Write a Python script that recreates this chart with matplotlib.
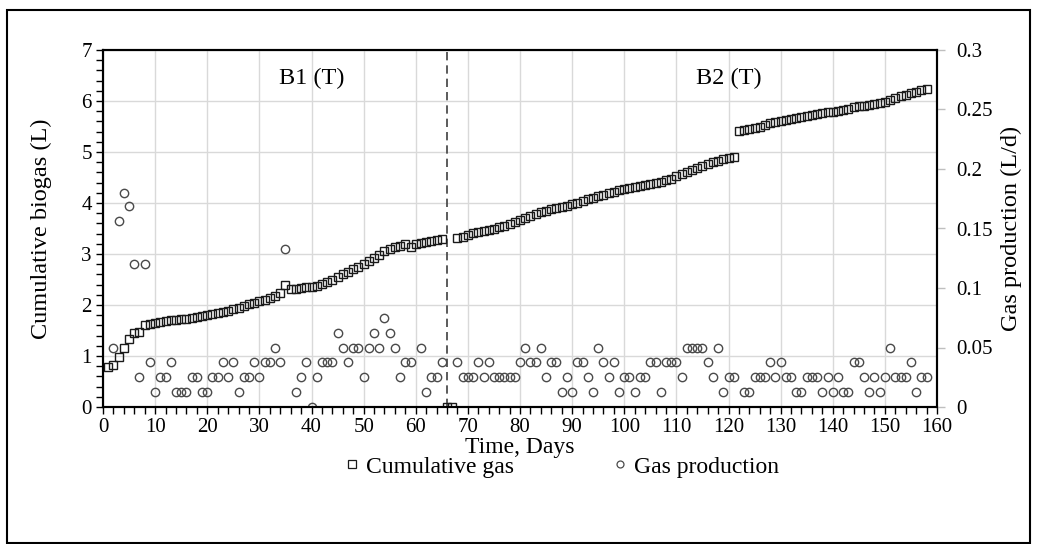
import numpy as np
import matplotlib
matplotlib.use("Agg")
import matplotlib.pyplot as plt
from matplotlib.ticker import MultipleLocator, FuncFormatter
from matplotlib.patches import Rectangle
from matplotlib.lines import Line2D

plt.rcParams['font.family'] = ['Liberation Serif', 'DejaVu Serif']
plt.rcParams['font.size'] = 15

# cumulative biogas (L), one reading per day, days 1..158 (reset at days 66-67)
cum_day = list(range(1, 159))
cum_gas = [
	0.79, 0.82, 0.99, 1.15, 1.33, 1.46, 1.48, 1.61, 1.62, 1.64,
	1.66, 1.68, 1.70, 1.71, 1.72, 1.73, 1.75, 1.76, 1.78, 1.80,
	1.82, 1.84, 1.86, 1.89, 1.92, 1.95, 1.98, 2.01, 2.04, 2.07,
	2.10, 2.14, 2.18, 2.23, 2.39, 2.31, 2.32, 2.33, 2.35, 2.36,
	2.38, 2.42, 2.45, 2.49, 2.55, 2.60, 2.65, 2.70, 2.75, 2.80,
	2.86, 2.92, 2.99, 3.06, 3.10, 3.13, 3.16, 3.20, 3.14, 3.20,
	3.22, 3.24, 3.26, 3.28, 3.30, 0.00, 0.00, 3.31, 3.34, 3.38,
	3.42, 3.44, 3.46, 3.48, 3.50, 3.52, 3.55, 3.58, 3.62, 3.66,
	3.70, 3.74, 3.78, 3.82, 3.85, 3.88, 3.90, 3.93, 3.95, 3.98,
	4.00, 4.03, 4.07, 4.10, 4.13, 4.16, 4.19, 4.22, 4.25, 4.27,
	4.29, 4.31, 4.33, 4.35, 4.37, 4.40, 4.42, 4.45, 4.48, 4.52,
	4.56, 4.60, 4.64, 4.68, 4.72, 4.76, 4.80, 4.83, 4.86, 4.88,
	4.90, 5.42, 5.43, 5.45, 5.48, 5.50, 5.53, 5.56, 5.59, 5.61,
	5.63, 5.65, 5.67, 5.69, 5.71, 5.73, 5.75, 5.76, 5.78, 5.79,
	5.81, 5.83, 5.85, 5.88, 5.90, 5.91, 5.92, 5.94, 5.96, 5.98,
	6.02, 6.06, 6.09, 6.12, 6.15, 6.18, 6.21, 6.24,
]

# daily gas production (L/d)
gas_day = (list(range(2, 36)) + list(range(37, 60)) + list(range(61, 66))
		   + list(range(68, 122)) + list(range(123, 159)))
gas_prod = [
	# days 2-35
	0.05, 0.156, 0.18, 0.169, 0.12, 0.025, 0.12, 0.0375, 0.0125, 0.025,
	0.025, 0.0375, 0.0125, 0.0125, 0.0125, 0.025, 0.025, 0.0125, 0.0125, 0.025,
	0.025, 0.0375, 0.025, 0.0375, 0.0125, 0.025, 0.025, 0.0375, 0.025, 0.0375,
	0.0375, 0.05, 0.0375, 0.133,
	# days 37-59
	0.0125, 0.025, 0.0375, 0.0, 0.025, 0.0375, 0.0375, 0.0375, 0.0625, 0.05,
	0.0375, 0.05, 0.05, 0.025, 0.05, 0.0625, 0.05, 0.075, 0.0625, 0.05,
	0.025, 0.0375, 0.0375,
	# days 61-65
	0.05, 0.0125, 0.025, 0.025, 0.0375,
	# days 68-121
	0.0375, 0.025, 0.025, 0.025, 0.0375, 0.025, 0.0375, 0.025, 0.025, 0.025,
	0.025, 0.025, 0.0375, 0.05, 0.0375, 0.0375, 0.05, 0.025, 0.0375, 0.0375,
	0.0125, 0.025, 0.0125, 0.0375, 0.0375, 0.025, 0.0125,
	0.05, 0.0375, 0.025, 0.0375, 0.0125, 0.025, 0.025, 0.0125, 0.025, 0.025,
	0.0375, 0.0375, 0.0125, 0.0375, 0.0375, 0.0375, 0.025, 0.05, 0.05, 0.05,
	0.05, 0.0375, 0.025, 0.05, 0.0125, 0.025, 0.025,
	# days 123-158
	0.0125, 0.0125, 0.025, 0.025, 0.025, 0.0375, 0.025, 0.0375, 0.025, 0.025,
	0.0125, 0.0125, 0.025, 0.025, 0.025, 0.0125, 0.025, 0.0125, 0.025, 0.0125,
	0.0125, 0.0375, 0.0375, 0.025, 0.0125, 0.025, 0.0125, 0.025, 0.05, 0.025,
	0.025, 0.025, 0.0375, 0.0125, 0.025, 0.025,
]

switch_day = 66
phase_labels = [(40, 6.45, 'B1 (T)'), (120, 6.45, 'B2 (T)')]

fig = plt.figure(figsize=(10.37, 5.44), dpi=100)
ax = fig.add_axes([103/1037, 1-407/544, (937-103)/1037, 357/544])
ax2 = ax.twinx()

ax.set_axisbelow(True)
ax.grid(which='major', color='#d9d9d9', lw=1)
ax.axvline(switch_day, color='#404040', lw=1.2, ls=(0, (5, 3)), zorder=1)

ax2.plot(gas_day, gas_prod, ls='none', marker='o', ms=6, mfc='none',
		 mec='#4a4a4a', mew=1.0, zorder=2)
ax.plot(cum_day, cum_gas, ls='none', marker='s', ms=5.5, mfc='none',
		mec='#1a1a1a', mew=1.0, zorder=3)

for x, y, t in phase_labels:
	ax.text(x, y, t, ha='center', va='center', fontsize=17.5)

ax.set_xlim(0, 160)
ax.set_ylim(0, 7)
ax2.set_ylim(0, 0.3)
ax.xaxis.set_major_locator(MultipleLocator(10))
ax.xaxis.set_minor_locator(MultipleLocator(2))
ax.yaxis.set_major_locator(MultipleLocator(1))
ax.yaxis.set_minor_locator(MultipleLocator(0.2))
ax2.yaxis.set_major_locator(MultipleLocator(0.05))
ax2.yaxis.set_major_formatter(FuncFormatter(lambda v, p: '{:g}'.format(round(v, 2))))

ax.tick_params(which='both', direction='out', length=5, width=1, color='black',
			   labelsize=15, pad=3)
ax.tick_params(axis='y', which='both', right=False)
ax2.tick_params(axis='y', direction='out', length=6, width=1, color='#bfbfbf',
				labelsize=15, pad=8)
for s in ax.spines.values():
	s.set_linewidth(1.5)
for s in ax2.spines.values():
	s.set_linewidth(1.5)

ax.set_xlabel('Time, Days', fontsize=17, labelpad=0)
ax.set_ylabel('Cumulative biogas (L)', fontsize=17.5, labelpad=21)
ax2.set_ylabel('Gas production (L/d)', fontsize=17.5, labelpad=6)

handles = [
	Line2D([], [], ls='none', marker='s', ms=5.5, mfc='none', mec='#1a1a1a', mew=0.9),
	Line2D([], [], ls='none', marker='o', ms=5, mfc='none', mec='#4a4a4a', mew=0.9),
]
fig.legend(handles, ['Cumulative gas', 'Gas production'], loc='center',
		   bbox_to_anchor=(562/1037, 1-467/544), ncol=2, frameon=False,
		   fontsize=17, handlelength=0.6, handletextpad=0.3, columnspacing=4.2,
		   borderpad=0.1)

# frame around the whole figure
fig.patches.append(Rectangle((7/1037, 1/544), 1023/1037, 533/544,
							 transform=fig.transFigure, fill=False,
							 ec='black', lw=1.5))

fig.savefig('out.png', dpi=100)
